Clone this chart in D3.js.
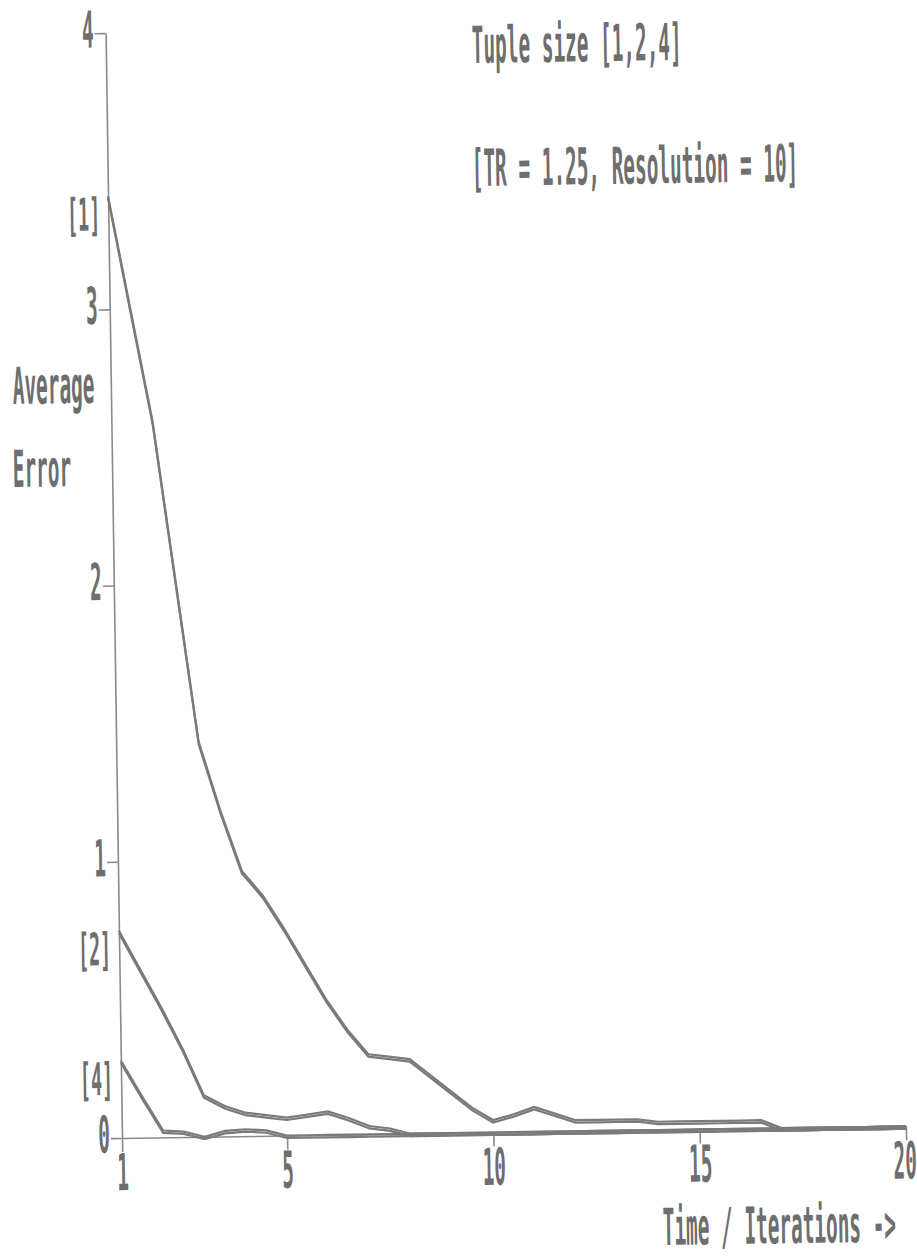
<!DOCTYPE html>
<html>
<head>
<meta charset="utf-8">
<script src="https://cdn.jsdelivr.net/npm/d3@7"></script>
<style>
  body { margin: 0; background: #fff; }
  text { font-family: "DejaVu Sans Mono", monospace; font-weight: bold; fill: #6e6e6e; }
</style>
</head>
<body>
<svg id="chart" width="917" height="1258"></svg>
<script>
// 数据 (half-iteration steps)
var iterations = [1, 1.5, 2, 2.5, 3, 3.5, 4, 4.5, 5, 5.5, 6, 6.5, 7, 7.5, 8, 8.5, 9, 9.5, 10, 10.5,
    11, 11.5, 12, 12.5, 13, 13.5, 14, 14.5, 15, 15.5, 16, 16.5, 17, 17.5, 18, 18.5, 19, 19.5, 20];
var err_t1 = [3.41, 3.00, 2.59, 2.01, 1.43, 1.18, 0.96, 0.87, 0.75, 0.62, 0.49, 0.38, 0.29, 0.28, 0.27, 0.21,
    0.15, 0.09, 0.045, 0.065, 0.09, 0.065, 0.04, 0.04, 0.04, 0.04, 0.03, 0.03, 0.03, 0.03, 0.03, 0.03,
    0, 0, 0, 0, 0, 0, 0];
var err_t2 = [0.75, 0.61, 0.47, 0.32, 0.15, 0.11, 0.085, 0.075, 0.065, 0.075, 0.085, 0.06, 0.03, 0.02,
    0, 0, 0, 0, 0, 0, 0, 0, 0, 0, 0, 0, 0, 0, 0, 0, 0, 0, 0, 0, 0, 0, 0, 0, 0];
var err_t4 = [0.28, 0.15, 0.025, 0.02, 0, 0.02, 0.025, 0.02,
    0, 0, 0, 0, 0, 0, 0, 0, 0, 0, 0, 0, 0, 0, 0, 0, 0, 0, 0, 0, 0, 0, 0, 0, 0, 0, 0, 0, 0, 0, 0];
var tupleLabels = ['[1]', '[2]', '[4]'];
var xTicks = [1, 5, 10, 15, 20];
var yTicks = [0, 1, 2, 3, 4];

var origin = { x: 122, y: 1138 };
var tilt = -0.85;        // the scan is slightly rotated
var fontSize = 51;
var narrow = 0.38;       // squeeze DejaVu Mono down to the printer font width
var ink = '#7a7a7a';

var svg = d3.select('#chart');

// move x/y into a transform so the horizontal squeeze doesn't shift the anchor
function squeeze(sel, size, sx) {
    size = size || fontSize;
    sx = sx || narrow;
    sel.style('font-size', size + 'px')
        .attr('transform', function () {
            var el = d3.select(this);
            var tx = +el.attr('x') || 0, ty = +el.attr('y') || 0;
            el.attr('x', 0).attr('y', 0);
            return 'translate(' + tx + ',' + ty + ') scale(' + sx + ',1)';
        });
}

var x = d3.scaleLinear().domain([1, 20]).range([origin.x, 906]);
var y = d3.scaleLinear().domain([0, 4]).range([origin.y, 33]);

var g = svg.append('g')
    .attr('transform', 'rotate(' + tilt + ',' + origin.x + ',' + origin.y + ')');

// 坐标轴
var xAxis = g.append('g')
    .attr('transform', 'translate(0,' + origin.y + ')')
    .call(d3.axisBottom(x).tickValues(xTicks).tickSize(14).tickSizeOuter(0).tickPadding(2));
var yAxis = g.append('g')
    .attr('transform', 'translate(' + origin.x + ',0)')
    .call(d3.axisLeft(y).tickValues(yTicks).tickFormat(d3.format('d'))
        .tickSize(11).tickSizeOuter(0).tickPadding(1));

g.selectAll('.domain, .tick line').attr('stroke', '#8a8a8a').attr('stroke-width', 1.6);
g.selectAll('.tick text').call(squeeze);
yAxis.selectAll('.tick text').attr('dy', '0.27em');
// last label sits against the right edge
xAxis.selectAll('.tick text').filter(function (d) { return d == 20; })
    .attr('text-anchor', 'end')
    .attr('transform', 'translate(10,16) scale(' + narrow + ',1)');

// 曲线 (drawn twice, offset, to get the thick dot-matrix steps)
var series = [err_t1, err_t2, err_t4];
var line = d3.line()
    .x(function (d, i) { return x(iterations[i]); })
    .y(function (d) { return y(d); });

[0, 2.4].forEach(function (off) {
    g.append('g')
        .attr('transform', 'translate(0,' + off + ')')
        .selectAll('path')
        .data(series)
        .enter()
        .append('path')
        .attr('d', line)
        .attr('fill', 'none')
        .attr('stroke', ink)
        .attr('stroke-width', 2.2);
});

// [1] [2] [4] at the start of each curve
g.selectAll('.tuple-label')
    .data(series)
    .enter()
    .append('text')
    .attr('class', 'tuple-label')
    .attr('x', x(1) - 8)
    .attr('y', function (d) { return y(d[0]); })
    .attr('dy', '0.76em')
    .attr('text-anchor', 'end')
    .text(function (d, i) { return tupleLabels[i]; })
    .call(squeeze, 45, 0.41);

// 文字
function note(str, px, py) {
    svg.append('g')
        .attr('transform', 'rotate(' + tilt + ',' + px + ',' + py + ')')
        .append('text')
        .attr('x', px)
        .attr('y', py)
        .text(str)
        .call(squeeze);
}
note('Tuple size [1,2,4]', 472, 63);
note('[TR = 1.25, Resolution = 10]', 472, 186);
note('Average', 13, 404);
note('Error', 13, 487);
note('Time / Iterations ->', 663, 1245);
</script>
</body>
</html>
